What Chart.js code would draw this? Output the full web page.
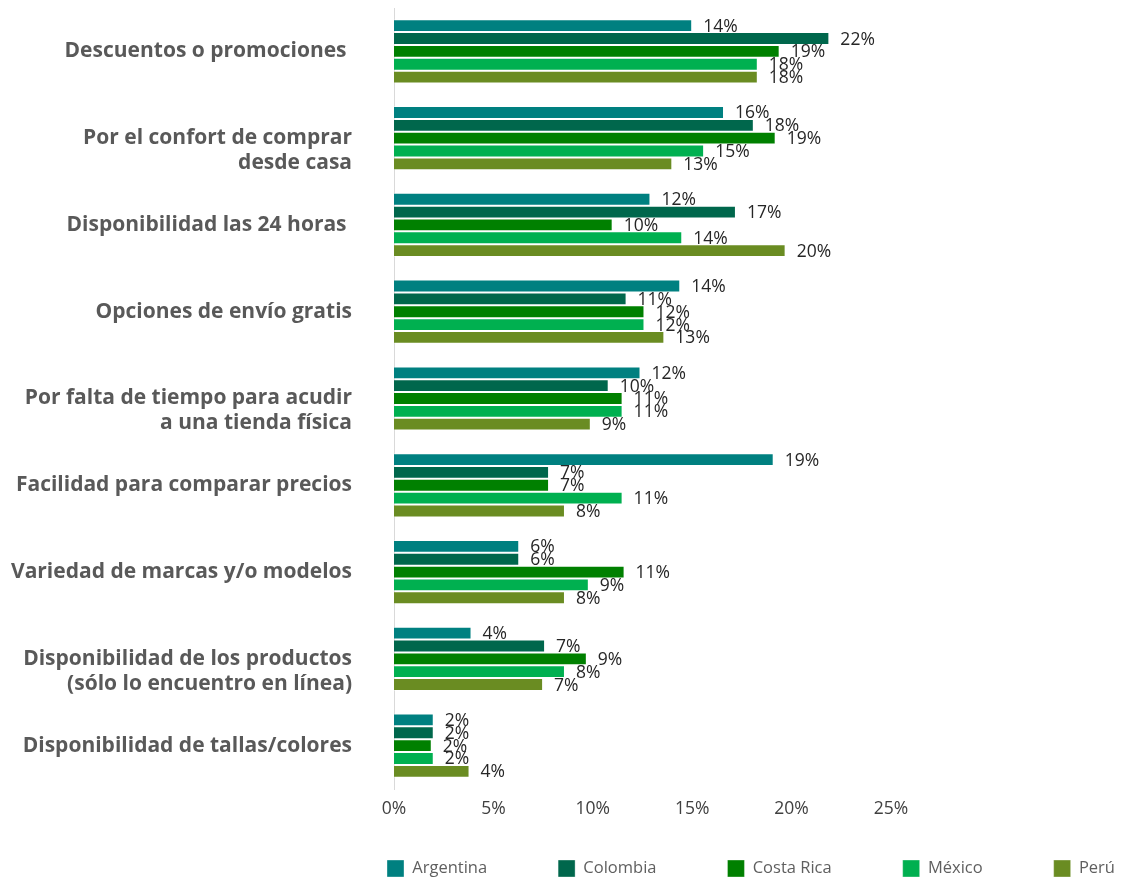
<!DOCTYPE html>
<html lang="es">
<head>
<meta charset="utf-8">
<title>Motivos de compra en línea</title>
<script src="https://cdn.jsdelivr.net/npm/chart.js@4.4.1/dist/chart.umd.min.js"></script>
<style>
  html, body { margin: 0; padding: 0; background: #ffffff; }
  #wrap { width: 1122px; height: 878px; }
</style>
</head>
<body>
<div id="wrap"><canvas id="chart" width="1122" height="878"></canvas></div>
<script>
// ---- Data ----
const categories = [
  "Descuentos o promociones ",
  ["Por el confort de comprar", "desde casa"],
  "Disponibilidad las 24 horas ",
  "Opciones de envío gratis",
  ["Por falta de tiempo para acudir", "a una tienda física"],
  "Facilidad para comparar precios",
  "Variedad de marcas y/o modelos",
  ["Disponibilidad de los productos", "(sólo lo encuentro en línea)"],
  "Disponibilidad de tallas/colores"
];
const seriesNames = ["Argentina", "Colombia", "Costa Rica", "México", "Perú"];
const seriesColors = ["#008080", "#00674C", "#008000", "#00B050", "#6A8C22"];

// bar lengths (%)
const argentina = [15.0, 16.6, 12.9, 14.4, 12.4, 19.1, 6.3, 3.9, 2.0];
const colombia  = [21.9, 18.1, 17.2, 11.7, 10.8, 7.8, 6.3, 7.6, 2.0];
const costaRica = [19.4, 19.2, 11.0, 12.6, 11.5, 7.8, 11.6, 9.7, 1.9];
const mexico    = [18.3, 15.6, 14.5, 12.6, 11.5, 11.5, 9.8, 8.6, 2.0];
const peru      = [18.3, 14.0, 19.7, 13.6, 9.9, 8.6, 8.6, 7.5, 3.8];

// printed data labels (%)
const argentinaLabels = [14, 16, 12, 14, 12, 19, 6, 4, 2];
const colombiaLabels  = [22, 18, 17, 11, 10, 7, 6, 7, 2];
const costaRicaLabels = [19, 19, 10, 12, 11, 7, 11, 9, 2];
const mexicoLabels    = [18, 15, 14, 12, 11, 11, 9, 8, 2];
const peruLabels      = [18, 13, 20, 13, 9, 8, 8, 7, 4];

const xTicks = [0, 5, 10, 15, 20, 25];

// ---- Build ----
const seriesValues = [argentina, colombia, costaRica, mexico, peru];
const seriesLabels = [argentinaLabels, colombiaLabels, costaRicaLabels, mexicoLabels, peruLabels];

// multi-line labels: first line sits on the category centre (as in the original)
const yLabels = categories.map(c => Array.isArray(c) ? ["", ...c] : c);

const datasets = seriesNames.map((name, i) => ({
  label: name,
  data: seriesValues[i],
  printed: seriesLabels[i],
  backgroundColor: seriesColors[i],
  borderColor: "rgba(255,255,255,0.35)",
  borderWidth: 1,
  categoryPercentage: 0.74,
  barPercentage: 1.0
}));

const valueLabels = {
  id: "valueLabels",
  afterDatasetsDraw(chart) {
    const ctx = chart.ctx;
    ctx.save();
    ctx.font = '17.5px "Open Sans"';
    ctx.fillStyle = "#262626";
    ctx.textAlign = "left";
    ctx.textBaseline = "middle";
    chart.data.datasets.forEach((ds, i) => {
      const meta = chart.getDatasetMeta(i);
      meta.data.forEach((bar, j) => {
        ctx.fillText(ds.printed[j] + "%", bar.x + 11, bar.y + 1);
      });
    });
    ctx.restore();
  }
};

const legendPlacer = {
  id: "legendPlacer",
  afterLayout(chart) {
    const lg = chart.legend;
    if (!lg) return;
    const ca = chart.chartArea;
    const pad = lg.options.labels.padding;
    lg.left = ca.left - 7 - pad;
    lg.right = chart.width + 400;
    lg.top = ca.bottom + 71 - pad;
    lg.bottom = chart.height;
    lg.width = lg.right - lg.left;
    lg.height = lg.bottom - lg.top;
  }
};

new Chart(document.getElementById("chart"), {
  type: "bar",
  data: { labels: yLabels, datasets },
  plugins: [valueLabels, legendPlacer],
  options: {
    indexAxis: "y",
    responsive: false,
    animation: false,
    devicePixelRatio: 1,
    layout: { padding: { top: 8, right: 231, bottom: 18, left: 0 } },
    scales: {
      x: {
        min: 0, max: 25,
        afterBuildTicks: (scale) => { scale.ticks = xTicks.map(v => ({ value: v })); },
        afterFit: (scale) => { scale.paddingLeft = 0; scale.paddingRight = 0; },
        grid: { display: false, drawTicks: false },
        border: { display: false },
        ticks: {
          padding: 10,
          color: "#404040",
          font: { family: "Open Sans", size: 17.5 },
          callback: (v) => v + "%"
        }
      },
      y: {
        afterFit: (scale) => { scale.width = 394; scale.paddingTop = 0; scale.paddingBottom = 0; },
        grid: { display: false, drawTicks: false },
        border: { display: true, color: "#d9d9d9", width: 1 },
        ticks: {
          padding: 42,
          color: "#595959",
          font: { family: "Open Sans", size: 21, weight: "bold", lineHeight: 25 / 21 },
          autoSkip: false
        }
      }
    },
    plugins: {
      tooltip: { enabled: false },
      legend: {
        position: "bottom",
        align: "start",
        maxHeight: 30,
        labels: {
          boxWidth: 17,
          boxHeight: 17,
          padding: 71,
          color: "#5f5f5f",
          font: { family: "Open Sans", size: 16.5 }
        }
      }
    }
  }
});
</script>
</body>
</html>
